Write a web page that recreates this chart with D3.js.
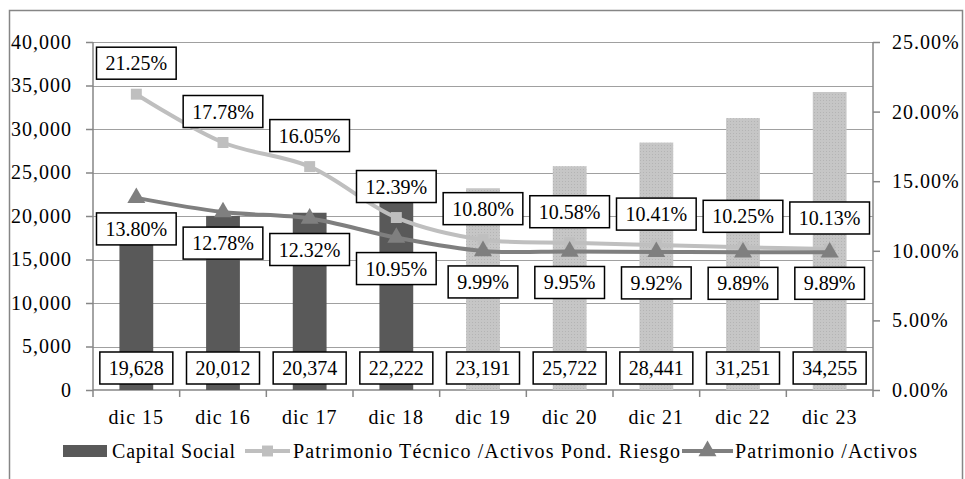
<!DOCTYPE html>
<html>
<head>
<meta charset="utf-8">
<script src="https://cdn.jsdelivr.net/npm/d3@7"></script>
</head>
<body style="margin:0; background:#fff">
<svg id="chart"></svg>
<script>
const categories = ["dic 15", "dic 16", "dic 17", "dic 18", "dic 19", "dic 20", "dic 21", "dic 22", "dic 23"];
const capitalSocial = [19628, 20012, 20374, 22222, 23191, 25722, 28441, 31251, 34255];
const patrimonioTecnico = [21.25, 17.78, 16.05, 12.39, 10.80, 10.58, 10.41, 10.25, 10.13];
const patrimonioActivos = [13.80, 12.78, 12.32, 10.95, 9.99, 9.95, 9.92, 9.89, 9.89];
const leftTicks = [0, 5000, 10000, 15000, 20000, 25000, 30000, 35000, 40000];
const rightTicks = [0, 5, 10, 15, 20, 25];
const projectedFrom = 4; // dic 19 onward drawn in light gray

const FONT = "Liberation Serif";
const margin = {top: 42, right: 92, bottom: 89, left: 93};
const W = 965, H = 479;
const width = W - margin.left - margin.right;
const height = H - margin.top - margin.bottom;

const fmtNum = d3.format(",");
const fmtPct = d => d.toFixed(2) + "%";

const svgRoot = d3.select("#chart")
    .attr("width", W).attr("height", H)
    .attr("font-family", FONT);

// light bar texture
const pat = svgRoot.append("defs").append("pattern")
    .attr("id", "dots").attr("width", 3).attr("height", 3).attr("patternUnits", "userSpaceOnUse");
pat.append("rect").attr("width", 3).attr("height", 3).attr("fill", "#c6c6c6");
pat.append("rect").attr("x", 1).attr("y", 1).attr("width", 1).attr("height", 1).attr("fill", "#b4b4b4");

// outer chart border
svgRoot.append("rect")
    .attr("x", 9.5).attr("y", 10.5)
    .attr("width", 953).attr("height", 480)
    .attr("fill", "none").attr("stroke", "#868686").attr("stroke-width", 1.5);

const svg = svgRoot.append("g")
    .attr("transform", "translate(" + margin.left + "," + margin.top + ")");

const x = d3.scaleBand().domain(categories).range([0, width]).paddingInner(0.61).paddingOuter(0.305);
const cx = d => x(d) + x.bandwidth() / 2;
const yL = d3.scaleLinear().domain([0, 40000]).range([height, 0]);
const yR = d3.scaleLinear().domain([0, 25]).range([height, 0]);

// gridlines
svg.append("g")
    .selectAll("line")
    .data(leftTicks.slice(1))
    .join("line")
    .attr("x1", 0).attr("x2", width)
    .attr("y1", d => Math.round(yL(d)) + 0.5)
    .attr("y2", d => Math.round(yL(d)) + 0.5)
    .attr("stroke", "#a0a0a0").attr("stroke-width", 1.2);

// axes
const leftAxis = svg.append("g")
    .call(d3.axisLeft(yL).tickValues(leftTicks).tickFormat(fmtNum).tickSize(7).tickPadding(14));
const rightAxis = svg.append("g")
    .attr("transform", "translate(" + width + ",0)")
    .call(d3.axisRight(yR).tickValues(rightTicks).tickFormat(fmtPct).tickSize(7).tickPadding(12));
const step = width / categories.length;
const bottomAxis = svg.append("g")
    .attr("transform", "translate(0," + height + ")")
    .call(d3.axisBottom(x).tickSize(0).tickPadding(20));
bottomAxis.selectAll(".tick-sep")
    .data(d3.range(categories.length + 1))
    .join("line")
    .attr("x1", i => i * step).attr("x2", i => i * step)
    .attr("y1", 0).attr("y2", 7)
    .attr("stroke", "#868686").attr("stroke-width", 1.5);

[leftAxis, rightAxis, bottomAxis].forEach(a => {
    a.attr("font-family", FONT).attr("font-size", 20);
    a.selectAll(".domain").attr("stroke", "#868686").attr("stroke-width", 1.5);
    a.selectAll(".tick line").attr("stroke", "#868686").attr("stroke-width", 1.5);
    a.selectAll("text").attr("fill", "#000").attr("letter-spacing", 1);
});
leftAxis.select(".domain").attr("d", "M0,0V" + height);
rightAxis.select(".domain").attr("d", "M0,0V" + height);
bottomAxis.select(".domain").attr("d", "M0,0H" + width);

// bars
svg.append("g")
    .selectAll("rect")
    .data(categories)
    .join("rect")
    .attr("x", d => x(d))
    .attr("width", x.bandwidth())
    .attr("y", (d, i) => yL(capitalSocial[i]))
    .attr("height", (d, i) => height - yL(capitalSocial[i]))
    .attr("fill", (d, i) => i < projectedFrom ? "#595959" : "url(#dots)");

// lines
const addSeries = (values, color, marker) => {
    svg.append("path")
        .datum(values)
        .attr("fill", "none")
        .attr("stroke", color)
        .attr("stroke-width", 4)
        .attr("stroke-linejoin", "round")
        .attr("d", d3.line()
            .x((d, i) => cx(categories[i]))
            .y(d => yR(d))
            .curve(d3.curveCatmullRom.alpha(0.5)));
    svg.append("g")
        .selectAll("path")
        .data(values)
        .join("path")
        .attr("transform", (d, i) => "translate(" + cx(categories[i]) + "," + yR(d) + ")")
        .attr("d", d3.symbol().type(marker).size(marker === d3.symbolSquare ? 120 : 140))
        .attr("fill", color);
};
addSeries(patrimonioTecnico, "#bfbfbf", d3.symbolSquare);
addSeries(patrimonioActivos, "#7f7f7f", d3.symbolTriangle);

// boxed data labels
const addLabel = (g, px, py, txt) => {
    const lg = g.append("g").attr("transform", "translate(" + px + "," + py + ")");
    const rect = lg.append("rect").attr("fill", "#fff").attr("stroke", "#000").attr("stroke-width", 1.5);
    const t = lg.append("text")
        .attr("text-anchor", "middle")
        .attr("dy", "0.35em")
        .style("font-family", "'Liberation Serif', serif")
        .attr("font-size", 20)
        .text(txt);
    const w = t.node().getComputedTextLength() + 18;
    rect.attr("x", -w / 2).attr("y", -16).attr("width", w).attr("height", 32);
};

const labels = svg.append("g");
categories.forEach((c, i) => {
    addLabel(labels, cx(c), yL(0) - 22, fmtNum(capitalSocial[i]));
    addLabel(labels, cx(c), yR(patrimonioTecnico[i]) - 31, fmtPct(patrimonioTecnico[i]));
    addLabel(labels, cx(c), yR(patrimonioActivos[i]) + 31, fmtPct(patrimonioActivos[i]));
});

// legend
const legend = svgRoot.append("g").attr("font-family", FONT).attr("font-size", 20);
const ly = 451;
const legendText = (x0, len, txt) => legend.append("text")
    .attr("x", x0).attr("y", ly).attr("dy", "0.35em")
    .attr("textLength", len).attr("lengthAdjust", "spacing")
    .text(txt);
const legendLine = (x0, x1, color, marker) => {
    legend.append("line").attr("x1", x0).attr("x2", x1).attr("y1", ly).attr("y2", ly)
        .attr("stroke", color).attr("stroke-width", 4);
    legend.append("path")
        .attr("transform", "translate(" + ((x0 + x1) / 2) + "," + ly + ")")
        .attr("d", d3.symbol().type(marker).size(marker === d3.symbolSquare ? 120 : 140))
        .attr("fill", color);
};

legend.append("rect").attr("x", 63).attr("y", ly - 6).attr("width", 44).attr("height", 12).attr("fill", "#595959");
legendText(112, 123, "Capital Social");
legendLine(245, 290, "#bfbfbf", d3.symbolSquare);
legendText(293, 387, "Patrimonio Técnico /Activos Pond. Riesgo");
legendLine(682, 733, "#7f7f7f", d3.symbolTriangle);
legendText(735, 182, "Patrimonio /Activos");

svgRoot.selectAll("text").style("font-family", "'Liberation Serif', serif");
</script>
</body>
</html>
